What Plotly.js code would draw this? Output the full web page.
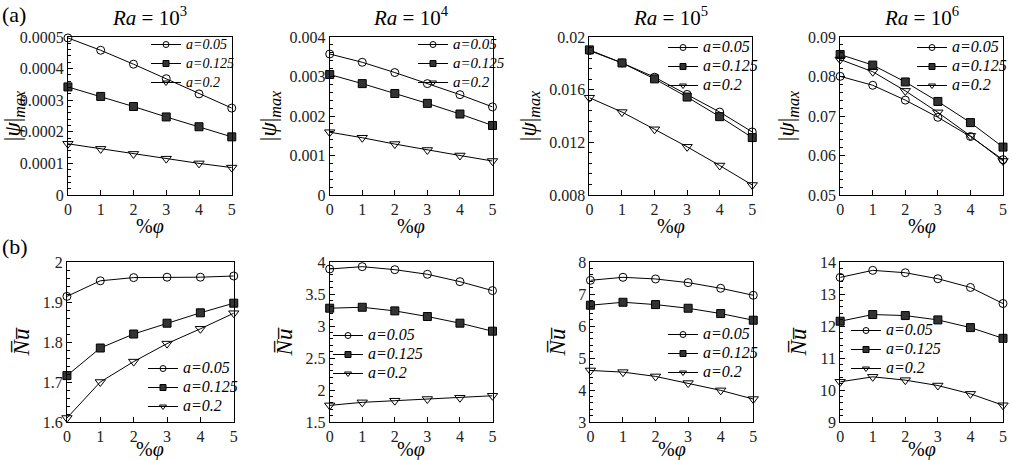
<!DOCTYPE html>
<html>
<head>
<meta charset="utf-8">
<script src="https://cdn.plot.ly/plotly-3.0.1.min.js"></script>
<style>
html,body{margin:0;padding:0;background:#fff;}
#chart{width:1012px;height:460px;}
#chart svg text{font-family:"Liberation Serif", "Times New Roman", serif !important;}
</style>
</head>
<body>
<div id="chart"></div>
<script>
// ---- data ----
const phi = [0, 1, 2, 3, 4, 5];
const seriesNames = ['a=0.05', 'a=0.125', 'a=0.2'];
const raTitles = ['10<sup>3</sup>', '10<sup>4</sup>', '10<sup>5</sup>', '10<sup>6</sup>'];

// |psi|_max, rows: a=0.05, a=0.125, a=0.2
const psiRa3 = [
  [0.000497, 0.000458, 0.000414, 0.000368, 0.000320, 0.000275],
  [0.000342, 0.000312, 0.000280, 0.000247, 0.000216, 0.000184],
  [0.000162, 0.000146, 0.000130, 0.000115, 0.000100, 0.0000867]
];
const psiRa4 = [
  [0.00357, 0.00336, 0.00310, 0.00282, 0.00254, 0.00223],
  [0.00305, 0.00282, 0.00257, 0.00232, 0.00205, 0.00176],
  [0.00159, 0.00145, 0.00129, 0.00114, 0.00100, 0.00086]
];
const psiRa5 = [
  [0.01897, 0.01803, 0.01695, 0.01564, 0.01430, 0.01279],
  [0.01902, 0.01803, 0.01682, 0.01544, 0.01395, 0.01236],
  [0.01539, 0.01430, 0.01299, 0.01166, 0.01024, 0.00876]
];
const psiRa6 = [
  [0.08004, 0.07778, 0.07402, 0.06967, 0.06481, 0.05895],
  [0.08556, 0.08289, 0.07862, 0.07368, 0.06833, 0.06213],
  [0.08431, 0.08121, 0.07636, 0.07092, 0.06498, 0.05862]
];
// mean Nusselt number
const nuRa3 = [
  [1.914, 1.953, 1.961, 1.962, 1.962, 1.965],
  [1.716, 1.785, 1.820, 1.847, 1.873, 1.897],
  [1.610, 1.700, 1.751, 1.796, 1.833, 1.872]
];
const nuRa4 = [
  [3.891, 3.927, 3.880, 3.808, 3.693, 3.553],
  [3.278, 3.293, 3.236, 3.148, 3.044, 2.919],
  [1.760, 1.807, 1.833, 1.859, 1.879, 1.910]
];
const nuRa5 = [
  [7.428, 7.522, 7.470, 7.356, 7.179, 6.960],
  [6.649, 6.742, 6.669, 6.555, 6.389, 6.181],
  [4.611, 4.559, 4.424, 4.216, 3.988, 3.717]
];
const nuRa6 = [
  [13.519, 13.739, 13.665, 13.477, 13.205, 12.703],
  [12.149, 12.358, 12.326, 12.190, 11.950, 11.615],
  [10.255, 10.412, 10.308, 10.140, 9.879, 9.523]
];

// tick labels
const ticksPsiRa3 = ['0', '0.0001', '0.0002', '0.0003', '0.0004', '0.0005'];
const ticksPsiRa4 = ['0', '0.001', '0.002', '0.003', '0.004'];
const ticksPsiRa5 = ['0.008', '0.012', '0.016', '0.02'];
const ticksPsiRa6 = ['0.05', '0.06', '0.07', '0.08', '0.09'];
const ticksNuRa3 = ['1.6', '1.7', '1.8', '1.9', '2'];
const ticksNuRa4 = ['1.5', '2', '2.5', '3', '3.5', '4'];
const ticksNuRa5 = ['3', '4', '5', '6', '7', '8'];
const ticksNuRa6 = ['9', '10', '11', '12', '13', '14'];
const xTicks = ['0', '1', '2', '3', '4', '5'];

// ---- styling ----
const SERIF = 'Liberation Serif';
const W = 1012, H = 460;
const panels = [
  {data: psiRa3, ticks: ticksPsiRa3, minor: 0.00002, px: [68, 232], py: [37, 195], leg: [146, 30], fs: 14},
  {data: psiRa4, ticks: ticksPsiRa4, minor: 0.0002, px: [330, 493], py: [37, 195], leg: [413, 30], fs: 15},
  {data: psiRa5, ticks: ticksPsiRa5, minor: 0.0008, px: [590, 753], py: [37, 195], leg: [663, 33], fs: 16},
  {data: psiRa6, ticks: ticksPsiRa6, minor: 0.002, px: [841, 1004], py: [37, 195], leg: [913, 33], fs: 16},
  {data: nuRa3, ticks: ticksNuRa3, minor: 0.02, px: [67, 234], py: [262, 422], leg: [143, 354], fs: 16},
  {data: nuRa4, ticks: ticksNuRa4, minor: 0.1, px: [330, 493], py: [262, 422], leg: [328, 321], fs: 16},
  {data: nuRa5, ticks: ticksNuRa5, minor: 0.2, px: [591, 754], py: [262, 422], leg: [663, 320], fs: 16},
  {data: nuRa6, ticks: ticksNuRa6, minor: 0.2, px: [841, 1004], py: [262, 422], leg: [846, 316], fs: 16}
];
const markers = [
  {symbol: 'circle-open', size: 8, color: '#000', line: {width: 1, color: '#000'}},
  {symbol: 'square', size: 8, color: '#333', line: {width: 1, color: '#000'}},
  {symbol: 'triangle-down-open', size: 9, color: '#000', line: {width: 1, color: '#000'}}
];
const legendMarkers = [
  {symbol: 'circle-open', size: 6, color: '#000', line: {width: 1, color: '#000'}},
  {symbol: 'square', size: 6, color: '#333', line: {width: 1, color: '#000'}},
  {symbol: 'triangle-down-open', size: 6, color: '#000', line: {width: 1, color: '#000'}}
];

const traces = [];
const layout = {
  width: W, height: H,
  margin: {l: 0, r: 0, t: 0, b: 0},
  paper_bgcolor: '#fff', plot_bgcolor: '#fff',
  showlegend: true,
  font: {family: SERIF, color: '#000', size: 16},
  annotations: [], shapes: []
};

panels.forEach((p, i) => {
  const n = i + 1;
  const sfx = n === 1 ? '' : String(n);
  const legName = 'legend' + sfx;
  const tickvals = p.ticks.map(Number);
  p.data.forEach((row, k) => {
    traces.push({
      x: phi, y: row, type: 'scatter', mode: 'lines+markers',
      name: seriesNames[k], showlegend: false,
      xaxis: 'x' + sfx, yaxis: 'y' + sfx,
      line: {color: '#000', width: 1},
      marker: markers[k],
      cliponaxis: false
    });
  });
  // legend-only entries (smaller symbols, as in the reference key)
  seriesNames.forEach((nm, k) => {
    traces.push({
      x: [null], y: [null], type: 'scatter', mode: 'lines+markers',
      name: '<span style="font-size:' + p.fs + 'px"><i>' + nm + '</i></span>',
      showlegend: true, legend: legName,
      xaxis: 'x' + sfx, yaxis: 'y' + sfx,
      line: {color: '#000', width: 1},
      marker: legendMarkers[k], hoverinfo: 'skip'
    });
  });
  layout['xaxis' + sfx] = {
    domain: [p.px[0] / W, p.px[1] / W],
    anchor: 'y' + sfx,
    range: [0, 5], tickvals: phi, ticktext: xTicks,
    ticks: 'inside', ticklen: 5, tickcolor: '#000',
    showline: true, linecolor: '#000', linewidth: 1, mirror: true,
    showgrid: false, zeroline: false,
    tickfont: {family: SERIF, size: 16, color: '#222'}
  };
  layout['yaxis' + sfx] = {
    domain: [1 - p.py[1] / H, 1 - p.py[0] / H],
    anchor: 'x' + sfx,
    range: [tickvals[0], tickvals[tickvals.length - 1]],
    tickvals: tickvals, ticktext: p.ticks,
    ticks: 'inside', ticklen: 5, tickcolor: '#000',
    minor: {dtick: p.minor, ticks: 'inside', ticklen: 3, tickcolor: '#000', showgrid: false},
    showline: true, linecolor: '#000', linewidth: 1, mirror: true,
    showgrid: false, zeroline: false,
    tickfont: {family: SERIF, size: 16, color: '#222'},
    title: {
      text: i < 4 ? '|<i>ψ</i>|<sub><i>max</i></sub>' : '<i>N\u0305u\u0305</i>',
      font: {family: SERIF, size: 23, color: '#000'}, standoff: 6
    }
  };
  layout[legName] = {
    x: p.leg[0] / W, y: 1 - p.leg[1] / H, xanchor: 'left', yanchor: 'top',
    bgcolor: 'rgba(0,0,0,0)', borderwidth: 0,
    font: {family: SERIF, size: 11, color: '#000'},
    itemwidth: 30, tracegroupgap: 0
  };
  // x-axis title (%φ) under each panel
  layout.annotations.push({
    xref: 'paper', yref: 'paper', x: (p.px[0] + p.px[1]) / 2 / W, y: 1 - (i < 4 ? 227 : 449) / H,
    xanchor: 'center', yanchor: 'middle', showarrow: false,
    text: '%<i>φ</i>', font: {family: SERIF, size: 20, color: '#000'}
  });
  if (i < 4) {
    layout.annotations.push({
      xref: 'paper', yref: 'paper', x: (p.px[0] + p.px[1]) / 2 / W, y: 1 - 16 / H,
      xanchor: 'center', yanchor: 'middle', showarrow: false,
      text: '<i>Ra</i> = ' + raTitles[i], font: {family: SERIF, size: 21, color: '#000'}
    });
  }
});
layout.annotations.push({xref: 'paper', yref: 'paper', x: 0, y: 1 - 14 / H, xanchor: 'left', yanchor: 'middle',
  showarrow: false, text: '(a)', font: {family: SERIF, size: 22, color: '#000'}});
layout.annotations.push({xref: 'paper', yref: 'paper', x: 0, y: 1 - 246 / H, xanchor: 'left', yanchor: 'middle',
  showarrow: false, text: '(b)', font: {family: SERIF, size: 22, color: '#000'}});

Plotly.newPlot('chart', traces, layout, {displayModeBar: false, staticPlot: true});
</script>
</body>
</html>
